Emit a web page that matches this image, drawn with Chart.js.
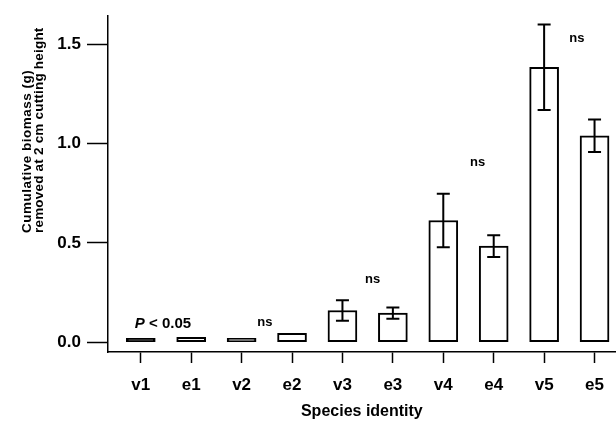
<!DOCTYPE html>
<html>
<head>
<meta charset="utf-8">
<script src="https://cdn.jsdelivr.net/npm/chart.js@4"></script>
<style>
  html, body { margin: 0; padding: 0; background: #fff; }
  #wrap { width: 616px; height: 427px; }
</style>
</head>
<body>
<div id="wrap"><canvas id="chart" width="616" height="427"></canvas></div>
<script>
// species / treatment categories
const categories = ['v1', 'e1', 'v2', 'e2', 'v3', 'e3', 'v4', 'e4', 'v5', 'e5'];
// cumulative biomass removed (g)
const biomass = [0.02, 0.025, 0.02, 0.045, 0.16, 0.147, 0.613, 0.484, 1.385, 1.04];
// +/- error (g)
const errors = [0, 0, 0, 0, 0.052, 0.028, 0.135, 0.055, 0.215, 0.082];
const yTicks = [0, 0.5, 1.0, 1.5];

// significance notes: x in category units, y in data units
const noteText = ['P < 0.05', 'ns', 'ns', 'ns', 'ns'];
const noteX = [0.44, 2.46, 4.6, 6.68, 8.65];
const noteY = [0.093, 0.098, 0.314, 0.907, 1.53];

const FONT = '"Liberation Sans", Arial, Helvetica, sans-serif';

// error bars drawn through the scales
const errorBars = {
    id: 'errorBars',
    afterDatasetsDraw(chart) {
        const { ctx, scales: { x, y } } = chart;
        ctx.save();
        ctx.strokeStyle = '#000';
        ctx.lineWidth = 2;
        biomass.forEach((v, i) => {
            if (!errors[i]) return;
            const px = x.getPixelForValue(i);
            const top = y.getPixelForValue(v + errors[i]);
            const bot = y.getPixelForValue(v - errors[i]);
            ctx.beginPath();
            ctx.moveTo(px, top); ctx.lineTo(px, bot);
            ctx.moveTo(px - 6.5, top); ctx.lineTo(px + 6.5, top);
            ctx.moveTo(px - 6.5, bot); ctx.lineTo(px + 6.5, bot);
            ctx.stroke();
        });
        ctx.restore();
    }
};

// "ns" / P labels and the two-line y title
const notes = {
    id: 'notes',
    afterDraw(chart) {
        const { ctx, scales: { x, y } } = chart;
        ctx.save();
        ctx.fillStyle = '#000';
        ctx.textBaseline = 'middle';
        noteText.forEach((t, i) => {
            const px = x.getPixelForValue(noteX[i]);
            const py = y.getPixelForValue(noteY[i]);
            if (t.startsWith('P')) {
                ctx.font = 'italic bold 15px ' + FONT;
                const pw = ctx.measureText('P').width;
                ctx.font = 'bold 15px ' + FONT;
                const rw = ctx.measureText(' < 0.05').width;
                const start = px - (pw + rw) / 2;
                ctx.textAlign = 'left';
                ctx.font = 'italic bold 15px ' + FONT;
                ctx.fillText('P', start, py);
                ctx.font = 'bold 15px ' + FONT;
                ctx.fillText(' < 0.05', start + pw, py);
            } else {
                ctx.textAlign = 'center';
                ctx.font = 'bold 13px ' + FONT;
                ctx.fillText(t, px, py);
            }
        });

        // y axis title, bottom aligned like the original
        ctx.textAlign = 'left';
        ctx.translate(0, 233);
        ctx.rotate(-Math.PI / 2);
        ctx.font = 'bold 13.5px ' + FONT;
        ctx.letterSpacing = '0.5px';
        ctx.fillText('Cumulative biomass (g)', 0, 27);
        ctx.letterSpacing = '0.2px';
        ctx.fillText('removed at 2 cm cutting height', 0, 39);
        ctx.restore();
    }
};

new Chart(document.getElementById('chart'), {
    type: 'bar',
    data: {
        datasets: [{
            data: biomass.map((v, i) => ({ x: i, y: v })),
            backgroundColor: biomass.map((v, i) => i === 0 ? '#000' : '#fff'),
            borderColor: '#000',
            borderWidth: 2,
            borderSkipped: false,
            barThickness: 29
        }]
    },
    options: {
        responsive: false,
        animation: false,
        devicePixelRatio: 1,
        layout: { padding: { top: 7, right: 0, bottom: 0, left: 0 } },
        plugins: {
            legend: { display: false },
            tooltip: { enabled: false }
        },
        scales: {
            x: {
                type: 'linear',
                offset: false,
                min: -0.65,
                max: 9.42,
                afterBuildTicks: s => { s.ticks = categories.map((c, i) => ({ value: i })); },
                afterFit: s => { s.height = 75; },
                border: { display: true, color: '#000', width: 1.5 },
                grid: { offset: false, drawOnChartArea: false, drawTicks: true, tickLength: 11, tickColor: '#000', tickWidth: 1.5 },
                ticks: {
                    callback: v => categories[v],
                    color: '#000',
                    font: { family: FONT, size: 17, weight: 'bold' },
                    padding: 12,
                    maxRotation: 0,
                    autoSkip: false
                },
                title: {
                    display: true,
                    text: 'Species identity',
                    color: '#000',
                    font: { family: FONT, size: 16, weight: 'bold' },
                    padding: { top: 0, bottom: 6 }
                }
            },
            y: {
                min: -0.049,
                max: 1.642,
                afterBuildTicks: s => { s.ticks = yTicks.map(v => ({ value: v })); },
                afterFit: s => { s.width = 108; },
                border: { display: true, color: '#000', width: 1.5 },
                grid: { drawOnChartArea: false, drawTicks: true, tickLength: 21, tickColor: '#000', tickWidth: 1.5 },
                ticks: {
                    callback: v => v.toFixed(1),
                    color: '#000',
                    font: { family: FONT, size: 17, weight: 'bold' },
                    padding: 6
                }
            }
        }
    },
    plugins: [errorBars, notes]
});
</script>
</body>
</html>
